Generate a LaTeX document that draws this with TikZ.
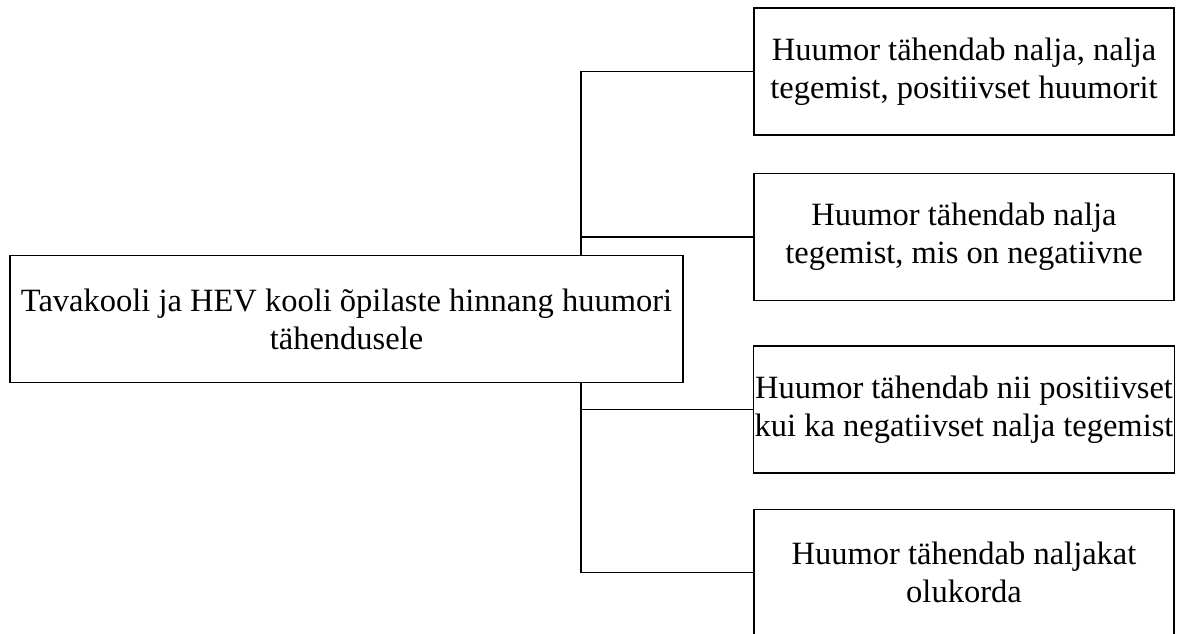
\documentclass[tikz,border=0pt]{standalone}
\usepackage{fontspec}
\setmainfont{Liberation Serif}
\usetikzlibrary{positioning}

\begin{document}
\begin{tikzpicture}[
            x = 1pt, y = -1pt, % pixel-like units, y downwards
            node distance = 37pt, % gap between answer boxes
            line width = 1.4pt
        ]

        \tikzstyle{box}=[
            draw,
            rectangle,
            fill = white,
            align = center,
            font = \fontsize{32.5}{38}\selectfont,
            inner xsep = 1pt,
            minimum height = 127pt
        ]
        \tikzstyle{answer}=[box, minimum width = 420pt]

        \useasboundingbox (0,0) rectangle (1180,633);

	% question
        \node[box, minimum width = 673pt] (Q) at (346.5,319) {Tavakooli ja HEV kooli õpilaste hinnang huumori\\tähendusele};

	% answers
        \node[answer] (A1) at (964,71.5) {Huumor tähendab nalja, nalja\\tegemist, positiivset huumorit};
        \node[answer] (A2) [below = of A1] {Huumor tähendab nalja\\tegemist, mis on negatiivne};
        \node[answer] (A3) [below = 44pt of A2] {Huumor tähendab nii positiivset\\kui ka negatiivset nalja tegemist};
        \node[answer] (A4) [below = 35pt of A3] {Huumor tähendab naljakat\\olukorda};

	% connectors
        \coordinate (J) at (581,0);
        \draw (A1.west) -- (A1.west -| J) -- (Q.north -| J);
        \draw (A2.west) -- (A2.west -| J);
        \draw (Q.south -| J) -- (A4.west -| J) -- (A4.west);
        \draw (A3.west) -- (A3.west -| J);

  \end{tikzpicture}
\end{document}
